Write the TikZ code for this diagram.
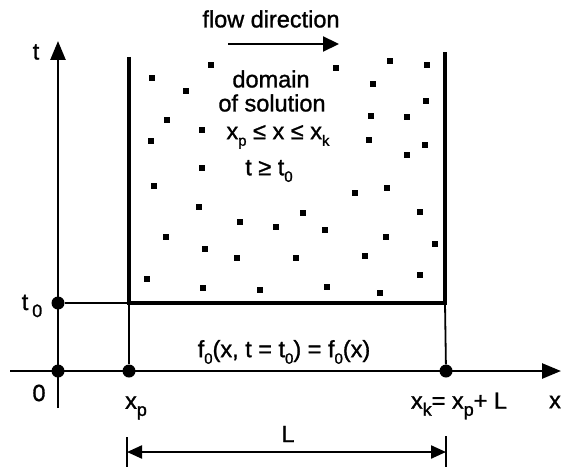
\documentclass[tikz,border=0pt]{standalone}
\usepackage{fontspec}
\setmainfont{Liberation Sans}[FakeBold=1.2]
\usetikzlibrary{arrows.meta}
\newcommand{\lsub}[1]{\raisebox{-0.28em}{\fontsize{15}{15}\selectfont #1}}
\newcommand{\bsub}[1]{\raisebox{-0.3em}{\fontsize{18}{18}\selectfont #1}}
\tikzset{
  lbl/.style={inner sep=0pt, font=\fontsize{23.5}{27}\selectfont},
  axisline/.style={line width=2.6pt, -{Triangle[length=19pt,width=15pt]}},
  wall/.style={line width=4.3pt},
  thinline/.style={line width=1.8pt},
  bigdot/.style={circle, fill=black, inner sep=0pt, minimum size=13pt},
  sq/.style={rectangle, fill=black, inner sep=0pt, minimum size=6pt},
  flowarrow/.style={line width=2.2pt, -{Triangle[length=16pt,width=15pt]}},
  dimarrow/.style={line width=2.2pt, {Triangle[length=15pt,width=13pt]}-{Triangle[length=15pt,width=13pt]}},
  tick/.style={line width=2.2pt}
}
\begin{document}
\begin{tikzpicture}[x=1pt,y=-1pt]
\useasboundingbox (0,0) rectangle (561,468);
% axes
\coordinate (tbot) at (58,408);
\coordinate (ttop) at (58,41);
\coordinate (xleft) at (10,371);
\coordinate (xright) at (561,371);
\draw[axisline] (tbot) -- (ttop);
\draw[axisline] (xleft) -- (xright);
% domain walls
\coordinate (lwtop) at (129,57);
\coordinate (lwbot) at (129,303);
\coordinate (rwbot) at (445,303);
\coordinate (rwtop) at (445,52);
\draw[wall] (lwtop) -- (lwbot) -- (rwbot) -- (rwtop);
% key points
\node[bigdot] (O) at (58,371) {};
\node[bigdot] (T0) at (58,303) {};
\node[bigdot] (XP) at (129,371) {};
\node[bigdot] (XK) at (446,371) {};
\draw[thinline] (T0) -- (lwbot);
\draw[thinline] (lwbot) -- (XP);
\draw[thinline] (rwbot) -- (XK);
% dimension
\coordinate (dl) at (127,452);
\coordinate (dr) at (446,452);
\coordinate (dlt) at (127,437);
\coordinate (dlb) at (127,467);
\coordinate (drt) at (446,436);
\coordinate (drb) at (446,467);
\draw[tick] (dlt) -- (dlb);
\draw[tick] (drt) -- (drb);
\draw[dimarrow] (dl) -- (dr);
\node[lbl] (L) at (288,434) {L};
% flow direction
\node[lbl] (flow) at (271,19) {flow direction};
\coordinate (fa) at (228,44);
\coordinate (fb) at (339,44);
\draw[flowarrow] (fa) -- (fb);
% texts in domain
\node[lbl] (dom) at (271,79) {domain};
\node[lbl] (sol) at (272,103) {of solution};
\node[lbl] (ineq) at (278,137) {x\lsub{p} ≤ x ≤ x\lsub{k}};
\node[lbl] (tge) at (269,171) {t ≥ t\lsub{0}};
\node[lbl] (init) at (284,352) {f\lsub{0}(x, t = t\lsub{0}) = f\lsub{0}(x)};
% axis labels
\node[lbl] (tlab) at (36,52) {t};
\node[lbl] (t0lab) at (32,306) {t\,\bsub{0}};
\node[lbl] (olab) at (39,393) {0};
\node[lbl] (xplab) at (136,408) {x\bsub{p}};
\node[lbl] (xklab) at (459,406) {x\bsub{k}= x\bsub{p}+ L};
\node[lbl] (xlab) at (555,402) {x};
% dots
\foreach \p [count=\i] in {(211,65),(152,78),(186,91),(167,120),(202,130),(151,141),(202,168),(154,186),(199,207),(240,222),(276,227),(166,237),(205,249),(237,258),(147,279),(203,288),(260,290),(336,68),(390,61),(427,65),(373,84),(426,101),(371,116),(407,117),(369,140),(425,145),(407,155),(355,193),(387,188),(303,213),(420,212),(325,230),(386,237),(435,244),(296,258),(365,256),(420,275),(327,287),(380,293)}
  \node[sq] (d\i) at \p {};
\end{tikzpicture}
\end{document}
